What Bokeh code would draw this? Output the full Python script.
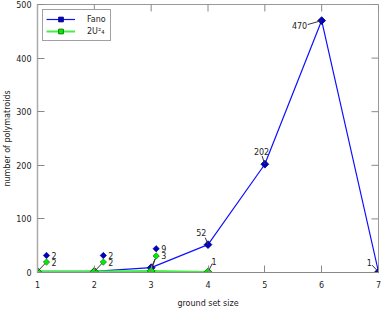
import math
from bokeh.plotting import figure
from bokeh.models import FixedTicker, Range1d, Legend, LegendItem
from bokeh.embed import file_html
from bokeh.resources import INLINE
from bokeh.core.properties import value

# ---- data ----
ground_set_size = [1, 2, 3, 4, 5, 6, 7]
fano_counts = [2, 2, 9, 52, 202, 470, 1]
u24_sizes = [1, 2, 3, 4]
u24_counts = [2, 2, 3, 1]
x_ticks = [1, 2, 3, 4, 5, 6, 7]
y_ticks = [0, 100, 200, 300, 400, 500]
fano_label = "Fano"
u24_label = "2U\u00b2\u2084"

# ---- layout ----
W, H = 382, 310
BL, BR, BT, BB = 37, 4, 4, 37
FW, FH = W - BL - BR, H - BT - BB      # frame size (used for pixel offsets)
XMIN, XMAX, YMIN, YMAX = 1, 7, 0, 500
PX_X = FW / (XMAX - XMIN)
PX_Y = FH / (YMAX - YMIN)
FONT = "DejaVu Sans"
TICK = 7

def shift(x, y, dx, dy):
    """move a data point by a screen offset (pixels, y down)"""
    return x + dx / PX_X, y - dy / PX_Y

p = figure(width=W, height=H,
           x_range=Range1d(XMIN, XMAX), y_range=Range1d(YMIN, YMAX),
           output_backend="svg", toolbar_location=None,
           min_border_left=BL, min_border_right=BR, min_border_top=BT,
           min_border_bottom=BB, background_fill_color="white",
           border_fill_color="white")
p.xgrid.visible = False
p.ygrid.visible = False
p.outline_line_color = "#999999"

p.xaxis.ticker = FixedTicker(ticks=x_ticks)
p.yaxis.ticker = FixedTicker(ticks=y_ticks)
p.xaxis.axis_label = "ground set size"
p.yaxis.axis_label = "number of polymatroids"
for ax in (p.xaxis[0], p.yaxis[0]):
    ax.major_label_text_font = FONT
    ax.major_label_text_font_size = "8px"
    ax.major_label_text_color = "#222222"
    ax.axis_label_text_font = FONT
    ax.axis_label_text_font_size = "8px"
    ax.axis_label_text_font_style = "normal"
    ax.axis_label_text_color = "#222222"
    ax.major_tick_in = TICK
    ax.major_tick_out = 0
    ax.minor_tick_line_color = None
    ax.major_tick_line_color = "#888888"
p.xaxis.major_label_standoff = 8
p.xaxis.axis_label_standoff = 8
p.yaxis.major_label_standoff = 6
p.yaxis.axis_label_standoff = 1
p.xaxis.axis_line_color = "#888888"
p.yaxis.axis_line_color = "#aaaaaa"
p.yaxis.axis_line_width = 1.5

# mirrored inward ticks on the top and right edges
p.segment(x_ticks, [YMAX] * len(x_ticks), x_ticks, [YMAX - TICK / PX_Y] * len(x_ticks),
          line_color="#888888", line_width=1)
p.segment([XMAX] * len(y_ticks), y_ticks, [XMAX - TICK / PX_X] * len(y_ticks), y_ticks,
          line_color="#888888", line_width=1)

BLUE_LINE = "#1010ff"
BLUE_PT = "#0000cc"
GREEN_LINE = "#44ee44"
GREEN_PT = "#00ee00"
ROT = math.pi / 4

fano_line = p.line(ground_set_size, fano_counts, color=BLUE_LINE, line_width=1.2)
fano_pts = p.scatter(ground_set_size, fano_counts, marker="square", angle=ROT, size=5.5,
                     fill_color=BLUE_PT, line_color="#000066", line_width=0.8)
u_line = p.line(u24_sizes, u24_counts, color=GREEN_LINE, line_width=2)
u_pts = p.scatter(u24_sizes, u24_counts, marker="square", angle=ROT, size=5.5,
                  fill_color=GREEN_PT, line_color="#006600", line_width=0.8)

# ---- value labels ----
seg = dict(x0=[], y0=[], x1=[], y1=[])
txt = dict(x=[], y=[], text=[], align=[])
blue_marks = dict(x=[], y=[])
green_marks = dict(x=[], y=[])

def leader(x, y, dx, dy):
    sx, sy = shift(x, y, dx, dy)
    seg["x0"].append(sx); seg["y0"].append(sy)
    seg["x1"].append(x); seg["y1"].append(y)

def label(x, y, dx, dy, s, align):
    tx, ty = shift(x, y, dx, dy)
    txt["x"].append(tx); txt["y"].append(ty); txt["text"].append(s); txt["align"].append(align)

# paired labels (marker + value) for the first three sizes
pair_offsets = [((9, -16), (9, -9.4)), ((9, -16), (9, -9.4)), ((5, -19), (5, -15))]
for i, ((bdx, bdy), (gdx, gdy)) in enumerate(pair_offsets):
    x = ground_set_size[i]
    fb, fg = fano_counts[i], u24_counts[i]
    bx, by = shift(x, fb, bdx, bdy)
    gx, gy = shift(x, fg, gdx, gdy)
    blue_marks["x"].append(bx); blue_marks["y"].append(by)
    green_marks["x"].append(gx); green_marks["y"].append(gy)
    label(x, fb, bdx + 5, bdy, str(fb), "left")
    label(x, fg, gdx + 5, gdy, str(fg), "left")
    if i < 2:
        leader(x, fg, gdx, gdy)
    else:
        for py in (fb, fg):
            seg["x0"].append(gx - 1 / PX_X); seg["y0"].append(gy - 3 / PX_Y)
            seg["x1"].append(x); seg["y1"].append(py)

# single labels
singles = [
    (ground_set_size[3], fano_counts[3], (-6.7, -12), (-2.7, -7), "center"),
    (ground_set_size[4], fano_counts[4], (-3.3, -12.4), (-2.8, -8.4), "center"),
    (ground_set_size[5], fano_counts[5], (-14.5, 5), (-14, 4), "right"),
    (ground_set_size[6], fano_counts[6], (-9.3, -9), (-6.3, -6.8), "center"),
    (u24_sizes[3], u24_counts[3], (6, -11), (4.3, -8.5), "center"),
]
for x, y, (tdx, tdy), (ldx, ldy), align in singles:
    label(x, y, tdx, tdy, str(y), align)
    leader(x, y, ldx, ldy)

p.segment(seg["x0"], seg["y0"], seg["x1"], seg["y1"], line_color="#333333", line_width=1)
p.scatter(blue_marks["x"], blue_marks["y"], marker="square", angle=ROT, size=4.5,
          fill_color=BLUE_PT, line_color="#000066", line_width=0.6)
p.scatter(green_marks["x"], green_marks["y"], marker="square", angle=ROT, size=4.5,
          fill_color=GREEN_PT, line_color="#006600", line_width=0.6)
p.text(txt["x"], txt["y"], text=txt["text"], text_align=txt["align"],
       text_baseline="middle", text_font=value(FONT), text_font_size="8px",
       text_color="#222222")

legend = Legend(items=[LegendItem(label=fano_label, renderers=[fano_line, fano_pts]),
                       LegendItem(label=u24_label, renderers=[u_line, u_pts])],
                location="top_left", label_text_font=FONT, label_text_font_size="8px",
                label_text_color="#222222", glyph_width=29, glyph_height=12,
                label_height=12, spacing=0, padding=3, margin=5, label_standoff=12,
                border_line_color="#444444", border_line_width=1,
                background_fill_alpha=1)
p.add_layout(legend)

open("out.html", "w").write(file_html(p, INLINE))
